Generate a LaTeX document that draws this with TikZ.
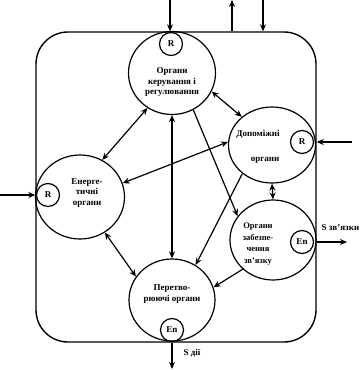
\documentclass[tikz,border=0pt]{standalone}
\usepackage{fontspec}
\setmainfont{Liberation Serif}
\usetikzlibrary{shapes.geometric,arrows.meta}

\begin{document}
\begin{tikzpicture}[x=1pt, y=-1pt, line width=1.2pt,
    every node/.style={font=\bfseries\fontsize{9}{10.5}\selectfont},
    organ/.style={draw, ellipse, inner sep=0pt},
    sub/.style={draw, circle, inner sep=0pt, minimum size=23pt},
    txt/.style={align=center, inner sep=0pt},
    arr/.style={-{Stealth[length=7pt, width=6pt]}},
    darr/.style={{Stealth[length=7pt, width=6pt]}-{Stealth[length=7pt, width=6pt]}}]
  \useasboundingbox (0,0) rectangle (362,370);
  % system boundary
  \node[draw, line width=1.4pt, rounded corners=32pt, minimum width=280pt,
    minimum height=310pt, inner sep=0pt] (sys) at (176,187) {};
  % organs
  \node[organ, minimum width=87pt, minimum height=83pt] (ctrl) at (172,73) {};
  \node[organ, minimum width=89pt, minimum height=84pt] (enrg) at (80,197) {};
  \node[organ, minimum width=87pt, minimum height=76pt] (aux) at (272,145) {};
  \node[organ, minimum width=86pt, minimum height=80pt] (comm) at (273,240) {};
  \node[organ, minimum width=86pt, minimum height=82pt] (conv) at (172,300) {};
  \node[sub] (rC) at (171,44) {R};
  \node[sub] (rE) at (48,195) {R};
  \node[sub] (rA) at (302,142) {R};
  \node[sub] (enC) at (302,242) {En};
  \node[sub] (enP) at (172,330) {En};
  \node[txt] (tCtrl) at (172,82) {Органи\\керування і\\регулювання};
  \node[txt] (tEnrg) at (87,193) {Енерге-\\тичні\\органи};
  \node[txt] (tAux1) at (258,134) {Допоміжні};
  \node[txt] (tAux2) at (265,160) {органи};
  \node[txt, font=\bfseries\fontsize{8.5}{11.5}\selectfont] (tComm) at (258,244)
    {Органи\\забезпе-\\чення\\зв’язку};
  \node[txt] (tConv) at (172,294) {Перетво-\\рюючі органи};
  % links inside
  \draw[darr] (ctrl.235) -- (enrg.59);
  \draw[darr] (ctrl.335) -- (aux.137);
  \draw[darr] (ctrl.south) -- (conv.north);
  \draw[arr] (ctrl.300) -- (comm.146);
  \draw[darr] (aux.176) -- (enrg.18);
  \draw[arr] (aux.224) -- (conv.56);
  \draw[darr] (aux.south) -- (comm.north);
  \draw[darr] (enrg.305) -- (conv.147);
  \draw[arr] (comm.224) -- (conv.17);
  % inputs and outputs
  \coordinate (inT) at (170,0);
  \coordinate (outT) at (232,0);
  \coordinate (inT2) at (263,0);
  \coordinate (inR) at (352,142);
  \coordinate (inL) at (0,195);
  \coordinate (outR) at (347,242);
  \coordinate (outB) at (172,369);
  \draw[arr] (inT) -- (inT |- sys.north);
  \draw[arr] (outT |- sys.north) -- (outT);
  \draw[arr] (inT2) -- (inT2 |- sys.north);
  \draw[arr] (inR) -- (inR -| sys.east);
  \draw[arr] (inL) -- (inL -| sys.west);
  \draw[arr] (outR -| sys.east) -- (outR);
  \draw[arr] (outB |- sys.south) -- (outB);
  \node[anchor=west, inner sep=0pt] (lblComm) at (321,228) {S зв’язки};
  \node[inner sep=0pt] (lblAct) at (192,353) {S дії};
\end{tikzpicture}
\end{document}
